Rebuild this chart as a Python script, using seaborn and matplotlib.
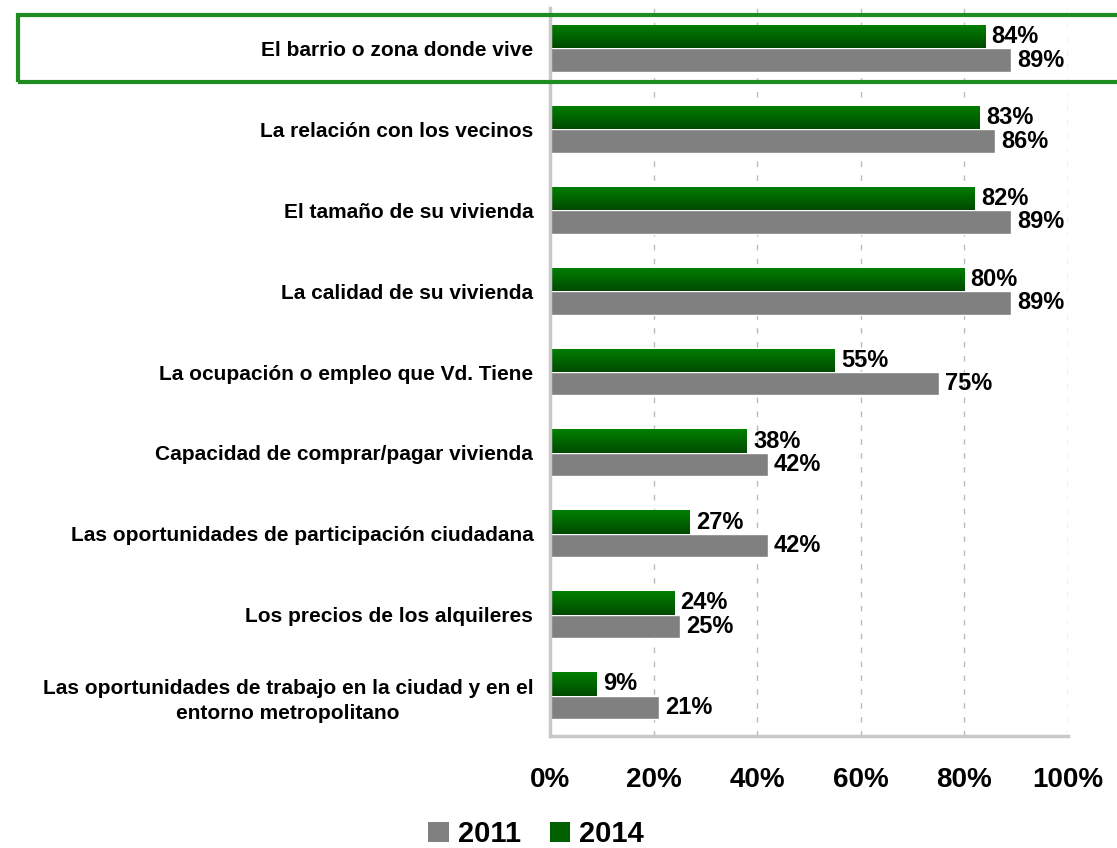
import numpy as np
import pandas as pd
import matplotlib
matplotlib.use("Agg")
import matplotlib.pyplot as plt
import seaborn as sns
from matplotlib.patches import Rectangle, Patch
from matplotlib.ticker import FixedLocator, PercentFormatter

categories = [
    "El barrio o zona donde vive",
    "La relación con los vecinos",
    "El tamaño de su vivienda",
    "La calidad de su vivienda",
    "La ocupación o empleo que Vd. Tiene",
    "Capacidad de comprar/pagar vivienda",
    "Las oportunidades de participación ciudadana",
    "Los precios de los alquileres",
    "Las oportunidades de trabajo en la ciudad y en el\nentorno metropolitano",
]
vals_2014 = [84, 83, 82, 80, 55, 38, 27, 24, 9]
vals_2011 = [89, 86, 89, 89, 75, 42, 42, 25, 21]
years = ["2014", "2011"]

df = pd.DataFrame({
    "cat": categories * 2,
    "year": ["2014"] * len(categories) + ["2011"] * len(categories),
    "val": vals_2014 + vals_2011,
})

sns.set_style("white")
plt.rcParams["font.family"] = ["Liberation Sans", "DejaVu Sans"]
plt.rcParams["font.weight"] = "bold"
plt.rcParams["text.color"] = "black"
plt.rcParams["xtick.color"] = "black"
plt.rcParams["ytick.color"] = "black"

fig = plt.figure(figsize=(11.17, 8.48), dpi=100)
ax = fig.add_axes([550 / 1117, 1 - 736 / 848, 518 / 1117, 728 / 848])

palette = {"2014": "#007000", "2011": "#808080"}
sns.barplot(data=df, y="cat", x="val", hue="year", hue_order=years,
            palette=palette, orient="h", width=0.58, saturation=1,
            ax=ax, legend=False)

# gradient on the green bars (bright at top, dark at bottom)
grad = np.linspace(0, 1, 64).reshape(-1, 1)
green_cmap = matplotlib.colors.LinearSegmentedColormap.from_list("g", ["#008000", "#004a00"])
n = len(categories)
for p in ax.patches[:n]:
    x0, y0 = p.get_x(), p.get_y()
    w, h = p.get_width(), p.get_height()
    im = ax.imshow(grad, cmap=green_cmap, aspect="auto",
                   extent=[x0, x0 + w, y0 + h, y0], zorder=p.get_zorder() + 0.1)
    im.set_clip_path(p)

ax.set_xlim(0, 100)
ax.set_ylim(n - 0.5, -0.5)

# value labels
for p in ax.patches:
    w = p.get_width()
    yc = p.get_y() + p.get_height() / 2
    ax.text(w + 1.2, yc, f"{int(round(w))}%", va="center", ha="left",
            fontsize=17, fontweight="bold", color="black", zorder=5)

ax.set_xlabel("")
ax.set_ylabel("")
ax.xaxis.set_major_locator(FixedLocator([0, 20, 40, 60, 80, 100]))
ax.xaxis.set_major_formatter(PercentFormatter(decimals=0))
ax.tick_params(axis="x", labelsize=20, pad=16, length=6, width=2, color="#c8c8c8", direction="out")
for lab in ax.get_xticklabels():
    lab.set_fontweight("bold")

ax.set_yticks(range(n))
ax.set_yticklabels(categories, fontsize=15, fontweight="bold", ha="right",
                   multialignment="center", linespacing=1.45)
ax.tick_params(axis="y", length=0, pad=12)
ax.yaxis.set_minor_locator(FixedLocator(np.arange(-0.5, n, 1)))
ax.tick_params(axis="y", which="minor", length=5, width=2, color="#c8c8c8", direction="out")

ax.grid(axis="x", linestyle=(0, (4, 6)), color="#bcbcbc", linewidth=1)
ax.set_axisbelow(True)
for s in ["top", "right"]:
    ax.spines[s].set_visible(False)
for s in ["left", "bottom"]:
    ax.spines[s].set_color("#c8c8c8")
    ax.spines[s].set_linewidth(2.5)

# highlight box around first row
fig.patches.append(Rectangle((18 / 1117, 1 - 82 / 848), 1110 / 1117, 67 / 848,
                             transform=fig.transFigure, fill=False,
                             edgecolor="#1e8c1e", linewidth=3, zorder=10))

handles = [Patch(facecolor="#808080", edgecolor="none", label="2011"),
           Patch(facecolor="#006000", edgecolor="none", label="2014")]
fig.legend(handles=handles, loc="center", bbox_to_anchor=(536 / 1117, 1 - 834 / 848),
           ncol=2, frameon=False, prop={"size": 21, "weight": "bold"},
           handlelength=0.7, handleheight=0.7, handletextpad=0.3, columnspacing=1.0)

fig.savefig("out.png", dpi=100)
